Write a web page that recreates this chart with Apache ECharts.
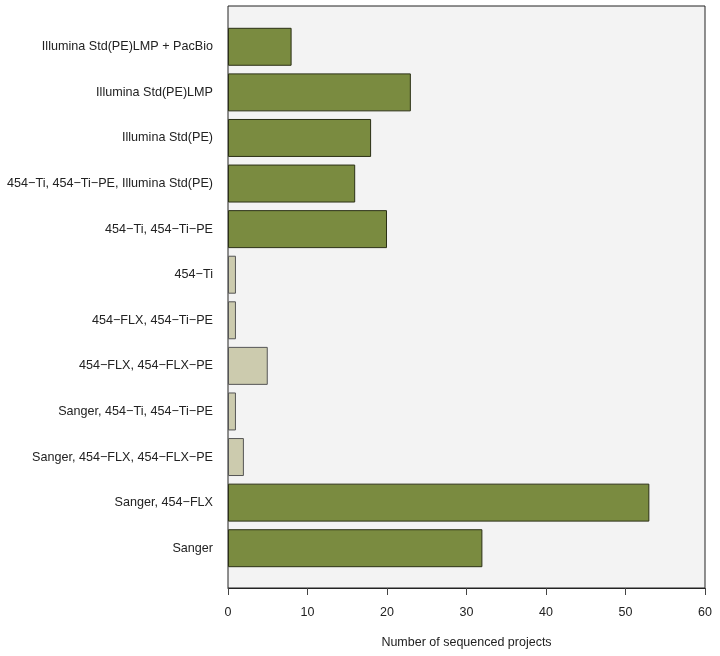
<!DOCTYPE html>
<html>
<head>
<meta charset="utf-8">
<title>Sequenced projects</title>
<script src="https://cdn.jsdelivr.net/npm/echarts@6/dist/echarts.min.js"></script>
<style>
  html, body { margin: 0; padding: 0; background: #fff; }
</style>
</head>
<body>
<div id="main" style="width: 720px; height: 656px;"></div>
<script type="text/javascript">
// categories, top to bottom
var categories = [
    'Illumina Std(PE)LMP + PacBio',
    'Illumina Std(PE)LMP',
    'Illumina Std(PE)',
    '454\u2212Ti, 454\u2212Ti\u2212PE, Illumina Std(PE)',
    '454\u2212Ti, 454\u2212Ti\u2212PE',
    '454\u2212Ti',
    '454\u2212FLX, 454\u2212Ti\u2212PE',
    '454\u2212FLX, 454\u2212FLX\u2212PE',
    'Sanger, 454\u2212Ti, 454\u2212Ti\u2212PE',
    'Sanger, 454\u2212FLX, 454\u2212FLX\u2212PE',
    'Sanger, 454\u2212FLX',
    'Sanger'
];
var projects = [8, 23, 18, 16, 20, 1, 1, 5, 1, 2, 53, 32];
// which bars are drawn in the light colour
var light = [false, false, false, false, false, true, true, true, true, true, false, false];
var xTicks = [0, 10, 20, 30, 40, 50, 60];

var green = '#7a8b40';
var beige = '#cccbae';

var myChart = echarts.init(document.getElementById('main'));

var barData = projects.map(function (v, i) {
    return {
        value: v,
        itemStyle: {
            color: light[i] ? beige : green,
            borderColor: light[i] ? '#555' : '#2b3015'
        }
    };
});

var font = 'Liberation Sans, Arial, Helvetica, sans-serif';

var option = {
    animation: false,
    textStyle: { fontFamily: font },
    grid: [
        // bars
        { left: 228, width: 477, top: 24, height: 547, containLabel: false },
        // frame + x axis
        {
            left: 228, width: 477, top: 6, height: 582,
            show: true, backgroundColor: '#f3f3f3',
            borderColor: '#222', borderWidth: 1, z: 0
        }
    ],
    xAxis: [
        {
            gridIndex: 0, type: 'value', min: 0, max: 60, interval: 10,
            show: false
        },
        {
            gridIndex: 1, type: 'value', min: xTicks[0], max: xTicks[xTicks.length - 1], interval: 10,
            name: 'Number of sequenced projects',
            nameLocation: 'middle', nameGap: 48,
            nameTextStyle: { color: '#222', fontSize: 12.5, fontFamily: font },
            axisLine: { show: true, lineStyle: { color: '#222', width: 1 } },
            axisTick: { show: true, length: 7, lineStyle: { color: '#444' } },
            axisLabel: { color: '#222', fontSize: 12.5, margin: 18, fontFamily: font },
            splitLine: { show: false }
        }
    ],
    yAxis: [
        {
            gridIndex: 0, type: 'category', data: categories, inverse: true,
            axisLine: { show: false },
            axisTick: { show: false },
            axisLabel: { color: '#222', fontSize: 12.6, margin: 15, fontFamily: font }
        },
        {
            gridIndex: 1, type: 'value', min: 0, max: 1, show: false
        }
    ],
    series: [
        {
            type: 'bar',
            xAxisIndex: 0,
            yAxisIndex: 0,
            data: barData,
            barCategoryGap: '16.7%',
            itemStyle: { borderWidth: 1 },
            z: 3
        }
    ]
};

myChart.setOption(option);
</script>
</body>
</html>
